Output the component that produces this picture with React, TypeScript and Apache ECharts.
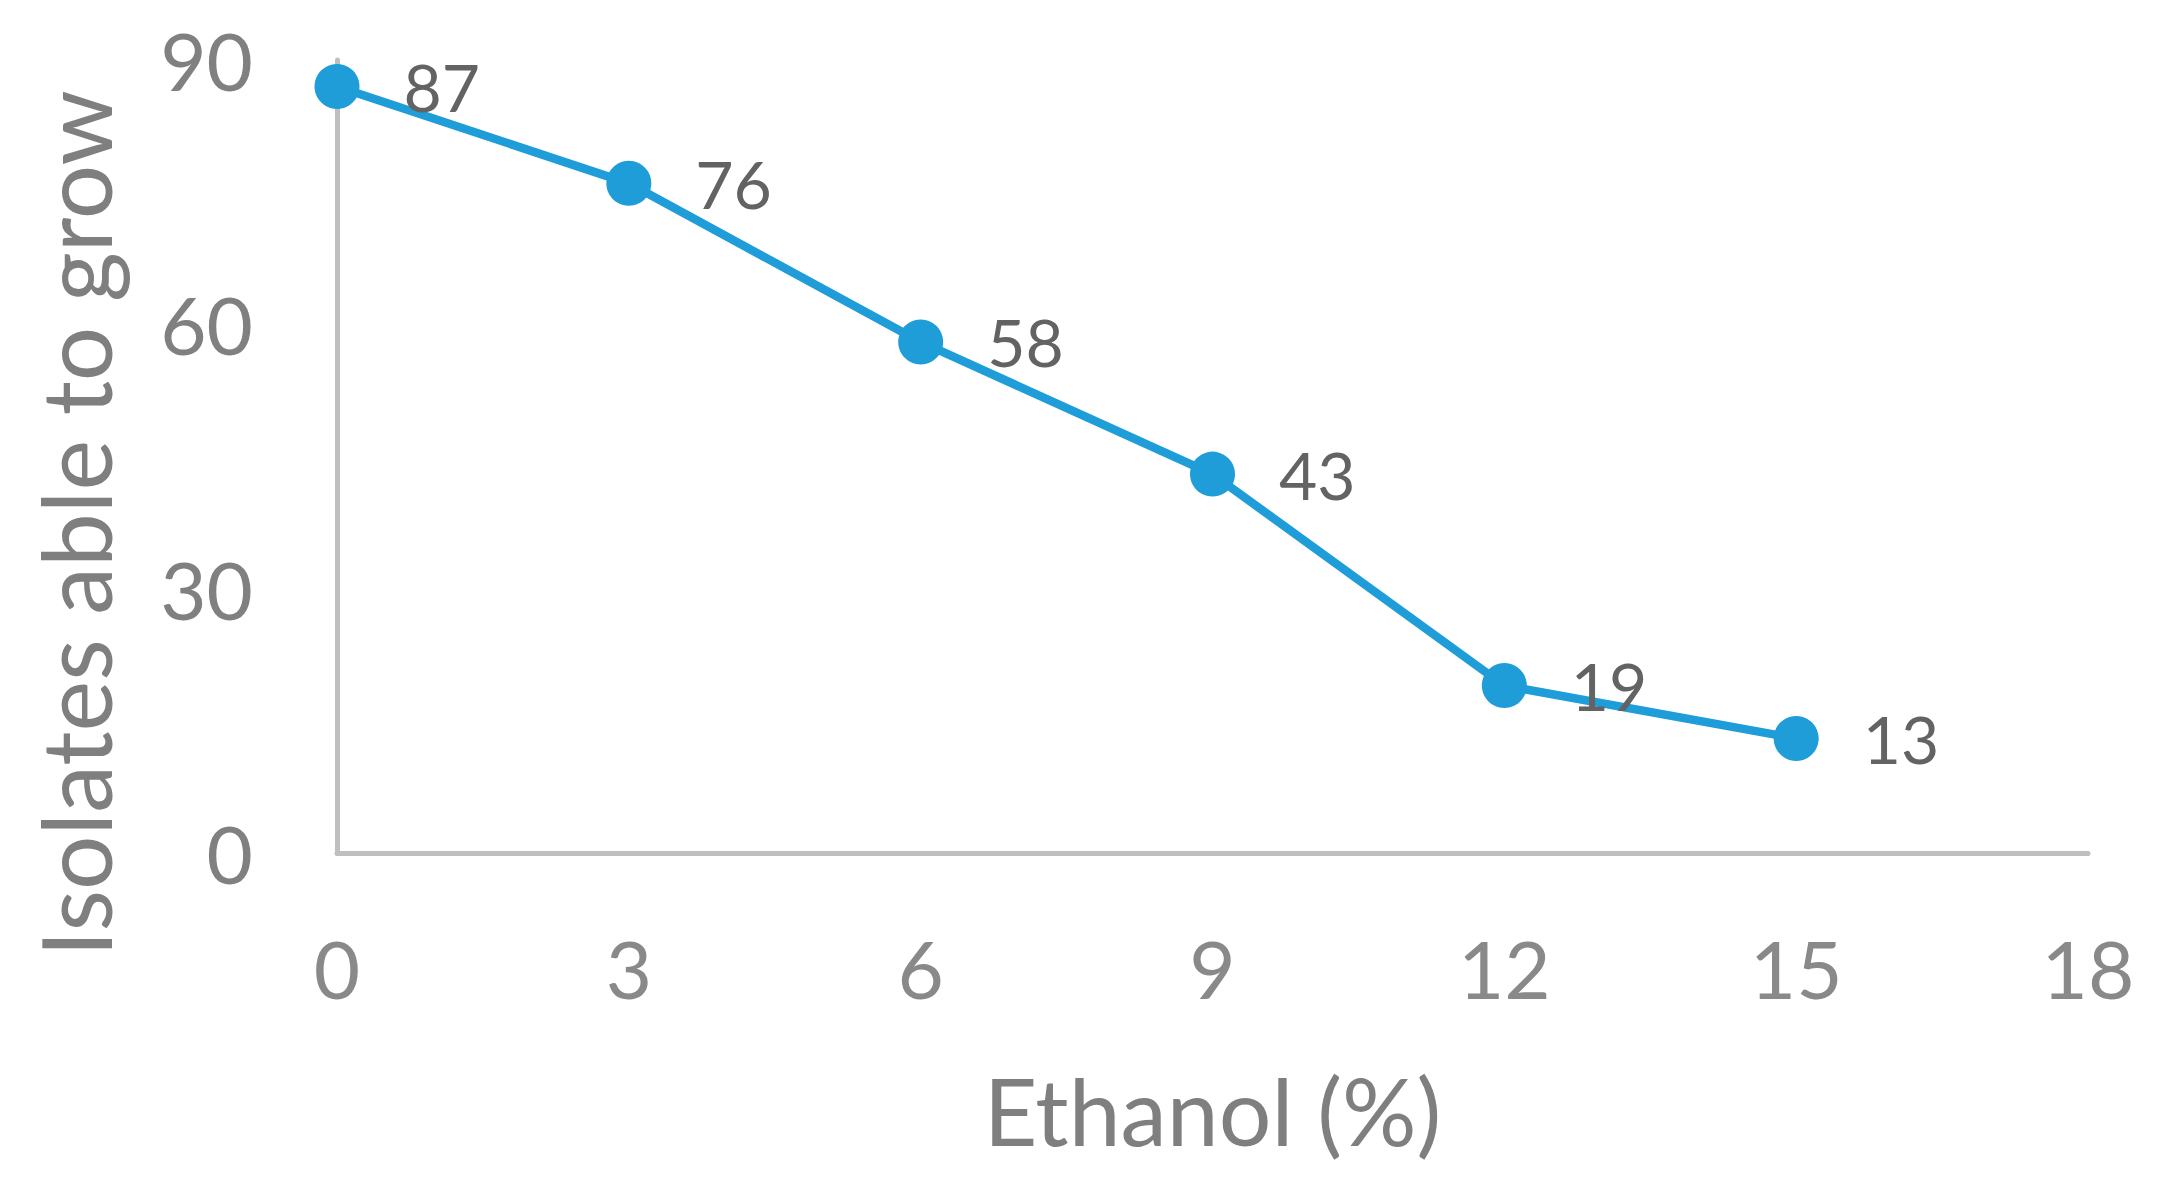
import React, { useEffect, useRef } from "react";
import * as echarts from "echarts";

const ethanol = [0, 3, 6, 9, 12, 15];
const isolates = [87, 76, 58, 43, 19, 13];
const xTitle = "Ethanol (%)";
const yTitle = "Isolates able to grow";

export default function App() {
  const ref = useRef<HTMLDivElement>(null);
  useEffect(() => {
    document.body.style.margin = "0";
    const chart = echarts.init(ref.current!, null, { renderer: "svg" });
    const font = "Lato, 'Open Sans', sans-serif";
    chart.setOption({
      animation: false,
      backgroundColor: "#ffffff",
      grid: { left: 337, right: 83, top: 60, bottom: 344, containLabel: false },
      xAxis: {
        type: "value",
        min: 0,
        max: 18,
        interval: 3,
        name: xTitle,
        nameLocation: "middle",
        nameGap: 210,
        nameTextStyle: { fontFamily: font, fontSize: 93, color: "#7f7f7f" },
        axisLine: { show: true, lineStyle: { color: "#bfbfbf", width: 5 } },
        axisTick: { show: false },
        splitLine: { show: false },
        axisLabel: { fontFamily: font, fontSize: 80, color: "#898989", margin: 75 },
      },
      yAxis: {
        type: "value",
        min: 0,
        max: 90,
        interval: 30,
        name: yTitle,
        nameLocation: "middle",
        nameGap: 215,
        nameRotate: 90,
        nameTextStyle: {
          fontFamily: font,
          fontSize: 96,
          color: "#7f7f7f",
          padding: [0, 134, 0, 0],
        },
        axisLine: { show: true, lineStyle: { color: "#bfbfbf", width: 5 } },
        axisTick: { show: false },
        splitLine: { show: false },
        axisLabel: { fontFamily: font, fontSize: 80, color: "#808080", margin: 84 },
      },
      series: [
        {
          type: "line",
          data: ethanol.map((x, i) => [x, isolates[i]]),
          symbol: "circle",
          symbolSize: 45,
          itemStyle: { color: "#1e9dd9" },
          lineStyle: { color: "#1e9dd9", width: 8.5 },
          label: {
            show: true,
            position: "right",
            distance: 44,
            fontFamily: font,
            fontSize: 66,
            color: "#636363",
            formatter: (p: any) => String(p.value[1]),
          },
        },
      ],
    });
    return () => chart.dispose();
  }, []);
  return <div ref={ref} style={{ width: 2171, height: 1197 }} />;
}
